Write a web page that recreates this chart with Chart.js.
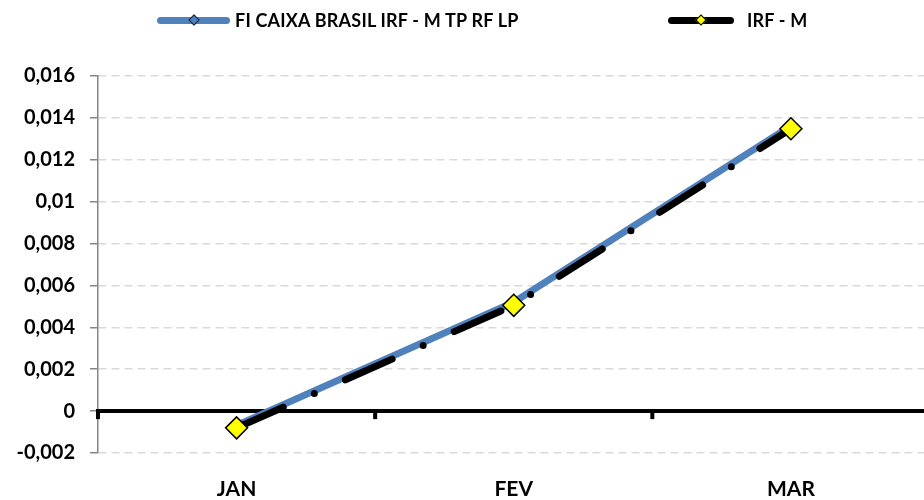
<!DOCTYPE html>
<html lang="pt-br">
  <head>
    <meta charset="UTF-8" />
    <title>FI CAIXA BRASIL IRF - M</title>
    <script src="https://cdn.jsdelivr.net/npm/chart.js"></script>
    <style>
      body { margin: 0; overflow: hidden; background: #fff; font-family: Lato, sans-serif; }
      #wrap { position: relative; width: 942px; height: 500px; }
      .legend { position: absolute; top: 9px; left: 0; width: 942px; height: 22px; font-weight: bold; font-size: 18px; letter-spacing: 0.2px; color: #000; }
      .item { position: absolute; top: 0; display: flex; align-items: center; height: 22px; white-space: nowrap; }
      .line { height: 7px; border-radius: 4px; position: relative; flex: none; }
      .mk { position: absolute; top: 50%; left: 50%; width: 6px; height: 6px; transform: translate(-50%, -50%) rotate(45deg); border: 1px solid #000; }
    </style>
  </head>
  <body>
    <div id="wrap">
      <canvas id="grafico" width="942" height="500"></canvas>
      <div class="legend">
        <div class="item" style="left: 157px;">
          <div class="line" style="width: 73px; background: #4f81bd;"><div class="mk" style="background: #4f81bd; border-color: #0f243e;"></div></div>
          <span style="margin-left: 5px;">FI CAIXA BRASIL IRF - M TP RF LP</span>
        </div>
        <div class="item" style="left: 668px;">
          <div class="line" style="width: 66px; background: #000;"><div class="mk" style="background: #ffff00;"></div></div>
          <span style="margin-left: 13px;">IRF - M</span>
        </div>
      </div>
    </div>

    <script>
      const meses = ["JAN", "FEV", "MAR"];
      const fundo = [-0.00068, 0.0052, 0.01362];
      const indice = [-0.0008, 0.00505, 0.01348];
      const yTicks = ["-0,002", "0", "0,002", "0,004", "0,006", "0,008", "0,01", "0,012", "0,014", "0,016"];

      // linha do zero e marcas do eixo x
      const linhaZero = {
        id: "linhaZero",
        beforeDatasetsDraw(chart) {
          const { ctx, chartArea, scales } = chart;
          const y0 = scales.y.getPixelForValue(0);
          ctx.save();
          ctx.strokeStyle = "#000";
          ctx.lineWidth = 4;
          ctx.beginPath();
          ctx.moveTo(chartArea.left - 2, y0);
          ctx.lineTo(chartArea.right, y0);
          ctx.stroke();
          ctx.fillStyle = "#000";
          const n = meses.length;
          ctx.fillRect(chartArea.left - 2, y0, 4, 8);
          for (let i = 1; i < n; i++) {
            const x = (scales.x.getPixelForValue(i - 1) + scales.x.getPixelForValue(i)) / 2;
            ctx.fillRect(x - 2, y0, 4, 8);
          }
          ctx.restore();
        },
      };

      const ctx = document.getElementById("grafico").getContext("2d");
      new Chart(ctx, {
        type: "line",
        data: {
          labels: meses,
          datasets: [
            {
              label: "IRF - M",
              data: indice,
              borderColor: "#000",
              borderWidth: 7,
              borderDash: [51, 34, 0, 34],
              borderCapStyle: "round",
              pointStyle: "rectRot",
              pointRadius: 11,
              pointBackgroundColor: "#ffff00",
              pointBorderColor: "#000",
              pointBorderWidth: 1.5,
              tension: 0,
            },
            {
              label: "FI CAIXA BRASIL IRF - M TP RF LP",
              data: fundo,
              borderColor: "#4f81bd",
              borderWidth: 7,
              pointStyle: "rectRot",
              pointRadius: 3,
              pointBackgroundColor: "#4f81bd",
              pointBorderColor: "#0f243e",
              tension: 0,
            },
          ],
        },
        options: {
          responsive: false,
          animation: false,
          layout: { padding: { top: 76, right: 2, left: 0, bottom: 0 } },
          plugins: { legend: { display: false }, tooltip: { enabled: false } },
          scales: {
            x: {
              offset: true,
              grid: { display: false },
              border: { display: false },
              ticks: { color: "#000", font: { family: "Lato", size: 21, weight: "bold" }, padding: 16 },
              afterFit: (s) => { s.height = 47; },
            },
            y: {
              min: -0.002,
              max: 0.016,
              ticks: {
                stepSize: 0.002,
                color: "#000",
                padding: 15,
                font: { family: "Lato", size: 20, weight: "bold" },
                callback: (v, i) => yTicks[i],
              },
              grid: {
                color: "#d9d9d9",
                lineWidth: 1.5,
                tickLength: 8,
                tickColor: "#868686",
                tickBorderDash: [],
              },
              border: { color: "#868686", width: 1.5, dash: [8, 5] },
              afterFit: (s) => { s.width = 98; },
            },
          },
        },
        plugins: [linhaZero],
      });
    </script>
  </body>
</html>
